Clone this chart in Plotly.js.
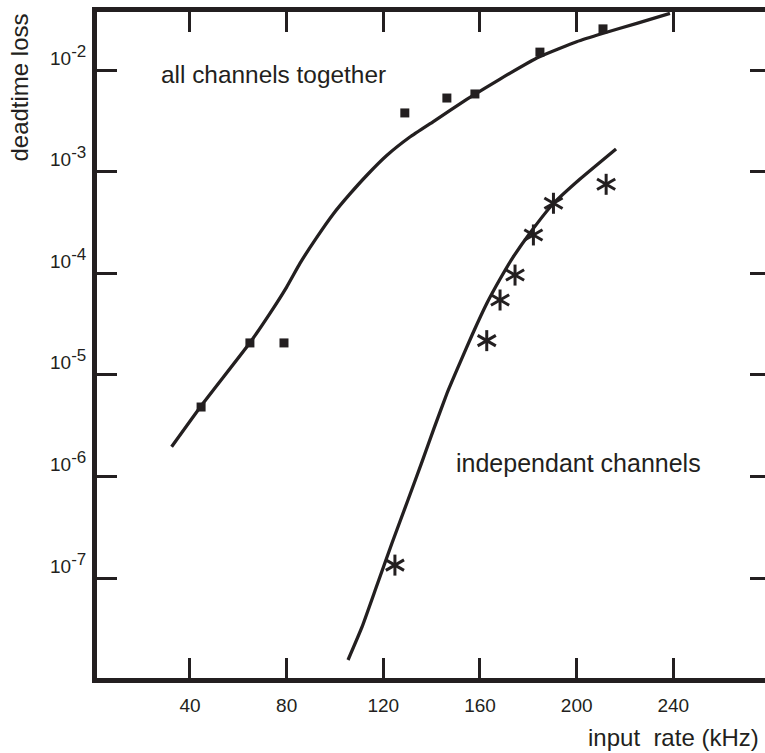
<!DOCTYPE html>
<html><head><meta charset="utf-8">
<script src="https://cdn.plot.ly/plotly-3.0.1.min.js"></script>
<style>html,body{margin:0;padding:0;overflow:hidden;background:#fff}</style>
</head><body><div id="chart" style="width:776px;height:753px"></div>
<script>
// input rate (kHz) and deadtime loss
const curveAllX = [32.4, 44.9, 64.8, 73.1, 80.0, 85.5, 92.4, 99.3, 106.2, 113.1, 121.4, 131.0, 140.7, 154.5, 168.3, 184.6, 200.0, 211.0, 224.9, 238.6];
const curveAllY = [1.96e-6, 5.05e-6, 2.07e-5, 4.03e-5, 7.31e-5, 1.25e-4, 2.24e-4, 3.83e-4, 6.03e-4, 9.16e-4, 1.44e-3, 2.19e-3, 3.11e-3, 5.13e-3, 8.15e-3, 1.35e-2, 1.90e-2, 2.30e-2, 2.88e-2, 3.61e-2];
const pointsAllX = [44.6, 64.8, 78.9, 128.9, 146.3, 157.9, 184.8, 210.9];
const pointsAllY = [4.82e-6, 2.06e-5, 2.06e-5, 3.78e-3, 5.30e-3, 5.81e-3, 1.50e-2, 2.54e-2];
const curveIndX = [105.4, 111.2, 117.4, 123.6, 130.2, 136.0, 141.0, 146.4, 151.7, 157.1, 162.9, 168.3, 173.7, 180.7, 190.2, 201.4, 216.3];
const curveIndY = [1.56e-8, 3.30e-8, 8.53e-8, 2.21e-7, 5.86e-7, 1.39e-6, 2.99e-6, 6.62e-6, 1.31e-5, 2.58e-5, 5.09e-5, 8.77e-5, 1.44e-4, 2.49e-4, 4.80e-4, 8.45e-4, 1.67e-3];
const pointsIndX = [124.8, 162.8, 168.3, 174.5, 182.1, 190.4, 212.2];
const pointsIndY = [1.34e-7, 2.17e-5, 5.45e-5, 9.59e-5, 2.38e-4, 4.88e-4, 7.50e-4];
const xTickVals = [40, 80, 120, 160, 200, 240];
const yTickVals = [1e-2, 1e-3, 1e-4, 1e-5, 1e-6, 1e-7];
const yTickExp = ['-2', '-3', '-4', '-5', '-6', '-7'];

const ink = '#231f20';
const fam = '"Liberation Sans", Arial, Helvetica, sans-serif';

const star = (angle) => ({x: pointsIndX, y: pointsIndY, mode: 'markers', hoverinfo: 'skip',
  marker: {symbol: 'line-ns-open', size: 15, angle: angle, color: ink, line: {color: ink, width: 3}}});

const traces = [
  {x: curveAllX, y: curveAllY, mode: 'lines', line: {color: ink, width: 3.3, shape: 'spline', smoothing: 0.4}, hoverinfo: 'skip'},
  {x: pointsAllX, y: pointsAllY, mode: 'markers', marker: {symbol: 'square', size: 9, color: ink}},
  {x: curveIndX, y: curveIndY, mode: 'lines', line: {color: ink, width: 3.3, shape: 'spline', smoothing: 0.4}, hoverinfo: 'skip'},
  star(0), star(60), star(-60)
];

const annotations = [
  {xref: 'paper', yref: 'paper', x: 0.0921, y: 0.9069, xanchor: 'left', yanchor: 'middle', showarrow: false,
   text: 'all channels together', font: {family: fam, size: 24.4, color: ink}},
  {xref: 'paper', yref: 'paper', x: 0.5305, y: 0.3228, xanchor: 'left', yanchor: 'middle', showarrow: false,
   text: 'independant channels', font: {family: fam, size: 25, color: ink}},
  {xref: 'paper', yref: 'paper', x: -0.1144, y: 0.8866, xanchor: 'center', yanchor: 'middle', showarrow: false,
   textangle: -90, text: 'deadtime loss', font: {family: fam, size: 24, color: ink}},
  {xref: 'paper', yref: 'paper', x: 0.9866, y: -0.0886, xanchor: 'right', yanchor: 'middle', showarrow: false,
   text: 'input\u00a0 rate (kHz)', font: {family: fam, size: 24, color: ink}}
];
yTickVals.forEach((v, i) => annotations.push({
  xref: 'paper', yref: 'y', x: -0.0134, y: Math.log10(v), xanchor: 'right', yanchor: 'middle',
  yshift: 15, showarrow: false,
  text: '10<sup><span style="font-size:17px">' + yTickExp[i] + '</span></sup>',
  font: {family: fam, size: 19, color: ink}
}));

const layout = {
  width: 776, height: 753,
  margin: {l: 97, r: 6, t: 12, b: 75},
  paper_bgcolor: '#fff', plot_bgcolor: '#fff',
  showlegend: false,
  font: {family: fam, color: ink, size: 19},
  xaxis: {
    range: [1.53, 280], showgrid: false, zeroline: false,
    showline: true, linewidth: 5, linecolor: ink, mirror: 'ticks',
    ticks: 'inside', ticklen: 20, tickwidth: 3, tickcolor: ink,
    tickmode: 'array', tickvals: xTickVals, ticktext: xTickVals.map(String),
    tickfont: {family: fam, size: 19, color: ink},
    ticklabelstandoff: 6
  },
  yaxis: {
    type: 'log', range: [-7.984, -1.429], showgrid: false, zeroline: false,
    showline: true, linewidth: 5, linecolor: ink, mirror: 'ticks',
    ticks: 'inside', ticklen: 20, tickwidth: 3, tickcolor: ink,
    tickmode: 'array', tickvals: yTickVals, showticklabels: false
  },
  annotations: annotations
};

Plotly.newPlot('chart', traces, layout, {staticPlot: true, displayModeBar: false});
</script>
</body></html>
